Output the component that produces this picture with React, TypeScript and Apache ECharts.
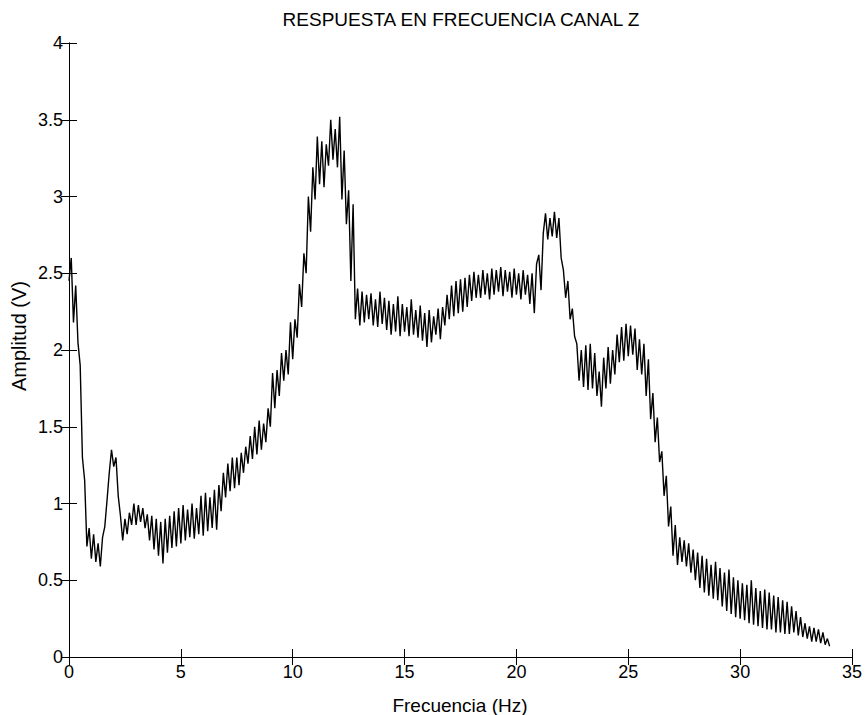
import React, { useEffect, useRef } from "react";
import * as echarts from "echarts";

const chartTitle = "RESPUESTA EN FRECUENCIA CANAL Z";
const xLabel = "Frecuencia (Hz)";
const yLabel = "Amplitud (V)";

// frequency step between samples (Hz)
const freqStep = 0.1;

// amplitude samples (V), one row per Hz, 10 samples each, starting at 0 Hz
const amplitude: number[] = [
  2.45, 2.6, 2.18, 2.42, 2.05, 1.9, 1.3, 1.15, 0.72, 0.84,
  0.64, 0.8, 0.62, 0.74, 0.59, 0.78, 0.85, 1.02, 1.2, 1.35,
  1.24, 1.3, 1.05, 0.92, 0.76, 0.9, 0.8, 0.94, 0.86, 1.0,
  0.86, 0.99, 0.88, 0.97, 0.84, 0.93, 0.76, 0.92, 0.7, 0.9,
  0.66, 0.88, 0.61, 0.9, 0.68, 0.92, 0.71, 0.95, 0.72, 0.97,
  0.74, 0.99, 0.76, 0.96, 0.78, 1.0, 0.77, 0.97, 0.8, 1.05,
  0.79, 1.07, 0.82, 1.04, 0.84, 1.09, 0.83, 1.12, 0.95, 1.2,
  1.04, 1.26, 1.08, 1.3, 1.1, 1.3, 1.12, 1.33, 1.2, 1.37,
  1.26, 1.44, 1.29, 1.5, 1.32, 1.54, 1.35, 1.52, 1.4, 1.62,
  1.5, 1.85, 1.62, 1.87, 1.7, 1.98, 1.8, 2.0, 1.84, 2.18,
  1.94, 2.2, 2.08, 2.43, 2.28, 2.63, 2.5, 3.0, 2.77, 3.19,
  2.98, 3.39, 3.08, 3.36, 3.06, 3.34, 3.2, 3.5, 3.24, 3.44,
  3.19, 3.52, 2.98, 3.3, 2.82, 3.04, 2.45, 2.95, 2.2, 2.4,
  2.16, 2.38, 2.18, 2.36, 2.2, 2.37, 2.16, 2.33, 2.15, 2.38,
  2.17, 2.34, 2.13, 2.32, 2.1, 2.3, 2.12, 2.35, 2.09, 2.3,
  2.12, 2.28, 2.09, 2.33, 2.1, 2.26, 2.08, 2.29, 2.06, 2.24,
  2.02, 2.26, 2.05, 2.22, 2.1, 2.27, 2.07, 2.28, 2.16, 2.36,
  2.2, 2.42, 2.22, 2.45, 2.24, 2.46, 2.25, 2.47, 2.28, 2.49,
  2.32, 2.51, 2.34, 2.49, 2.34, 2.52, 2.36, 2.5, 2.33, 2.53,
  2.36, 2.52, 2.38, 2.54, 2.35, 2.52, 2.38, 2.51, 2.34, 2.53,
  2.36, 2.5, 2.33, 2.52, 2.36, 2.49, 2.3, 2.5, 2.24, 2.56,
  2.62, 2.39, 2.76, 2.89, 2.72, 2.86, 2.74, 2.9, 2.73, 2.86,
  2.6, 2.52, 2.34, 2.45, 2.2, 2.27, 2.09, 2.04, 1.8, 2.0,
  1.76, 2.03, 1.74, 2.04, 1.75, 1.98, 1.7, 1.86, 1.63, 1.95,
  1.75, 2.02, 1.78, 2.0, 1.84, 2.1, 1.92, 2.15, 1.93, 2.17,
  1.96, 2.16, 1.97, 2.14, 1.87, 2.07, 1.84, 2.04, 1.7, 1.94,
  1.55, 1.72, 1.4, 1.56, 1.27, 1.34, 1.05, 1.18, 0.85, 0.98,
  0.66, 0.86, 0.6, 0.78, 0.62, 0.76, 0.59, 0.74, 0.55, 0.7,
  0.5, 0.68, 0.45, 0.66, 0.42, 0.64, 0.4, 0.6, 0.38, 0.62,
  0.37, 0.58, 0.33, 0.55, 0.3, 0.57, 0.28, 0.52, 0.26, 0.5,
  0.25, 0.48, 0.24, 0.47, 0.22, 0.5, 0.21, 0.45, 0.2, 0.43,
  0.19, 0.44, 0.18, 0.42, 0.18, 0.4, 0.16, 0.39, 0.16, 0.37,
  0.15, 0.36, 0.15, 0.33, 0.16, 0.3, 0.14, 0.26, 0.13, 0.22,
  0.12, 0.2, 0.1, 0.19, 0.1, 0.18, 0.09, 0.16, 0.08, 0.12,
  0.07,
];

const xMin = 0;
const xMax = 35;
const xInterval = 5;
const yMin = 0;
const yMax = 4;
const yInterval = 0.5;

const FONT = "'Liberation Sans', Arial, Helvetica, sans-serif";

export default function App() {
  const ref = useRef<HTMLDivElement>(null);

  useEffect(() => {
    if (!ref.current) return;
    const chart = echarts.init(ref.current, undefined, { renderer: "svg" });
    const points = amplitude.map((a, i) => [+(i * freqStep).toFixed(2), a]);

    const axisLine = { show: true, lineStyle: { color: "#000", width: 1 } };
    const axisTick = { show: true, inside: true, length: 8, lineStyle: { color: "#000", width: 1 } };

    chart.setOption({
      animation: false,
      backgroundColor: "#fff",
      textStyle: { fontFamily: FONT },
      grid: { left: 69, right: 9, top: 43, bottom: 58, containLabel: false },
      xAxis: [
        {
          type: "value",
          position: "bottom",
          min: xMin,
          max: xMax,
          interval: xInterval,
          axisLine,
          axisTick,
          splitLine: { show: false },
          axisLabel: { color: "#000", fontSize: 18, fontFamily: FONT, margin: 6 },
        },
        {
          type: "value",
          position: "top",
          min: xMin,
          max: xMax,
          interval: xInterval,
          axisLine,
          axisTick,
          splitLine: { show: false },
          axisLabel: { show: false },
        },
      ],
      yAxis: [
        {
          type: "value",
          position: "left",
          min: yMin,
          max: yMax,
          interval: yInterval,
          axisLine,
          axisTick,
          splitLine: { show: false },
          axisLabel: { color: "#000", fontSize: 18, fontFamily: FONT, margin: 6 },
        },
        {
          type: "value",
          position: "right",
          min: yMin,
          max: yMax,
          interval: yInterval,
          axisLine,
          axisTick,
          splitLine: { show: false },
          axisLabel: { show: false },
        },
      ],
      series: [
        {
          type: "line",
          data: points,
          xAxisIndex: 0,
          yAxisIndex: 0,
          showSymbol: false,
          symbol: "none",
          lineStyle: { color: "#000", width: 1.4 },
          itemStyle: { color: "#000" },
        },
      ],
      graphic: [
        {
          type: "text",
          x: 461,
          y: 19,
          style: {
            text: chartTitle,
            fill: "#000",
            font: `19px ${FONT}`,
            textAlign: "center",
            textVerticalAlign: "middle",
          },
        },
        {
          type: "text",
          x: 460,
          y: 705,
          style: {
            text: xLabel,
            fill: "#000",
            font: `19px ${FONT}`,
            textAlign: "center",
            textVerticalAlign: "middle",
          },
        },
        {
          type: "text",
          x: 19,
          y: 336,
          rotation: Math.PI / 2,
          style: {
            text: yLabel,
            fill: "#000",
            font: `20px ${FONT}`,
            textAlign: "center",
            textVerticalAlign: "middle",
          },
        },
      ],
    });
    return () => chart.dispose();
  }, []);

  return (
    <div
      ref={ref}
      style={{ position: "absolute", left: 0, top: 0, width: 865, height: 715, background: "#fff" }}
    />
  );
}
